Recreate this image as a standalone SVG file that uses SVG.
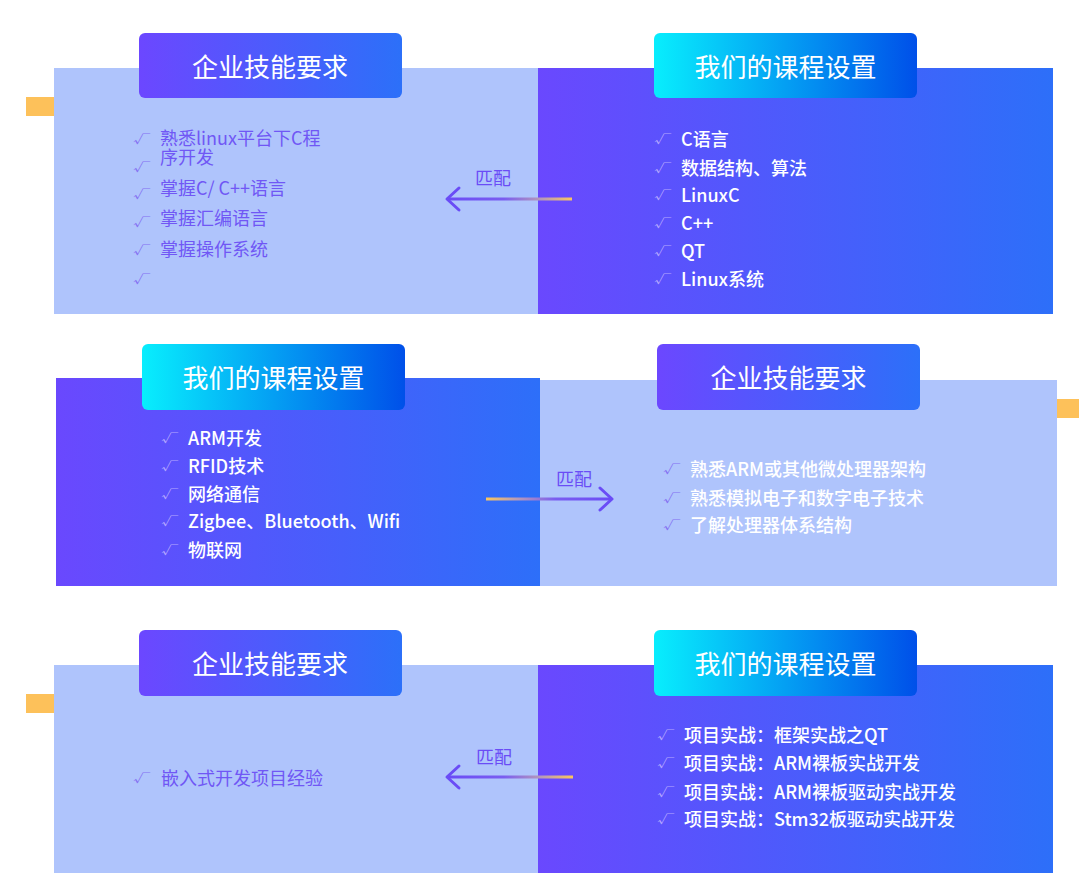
<svg xmlns="http://www.w3.org/2000/svg" width="1086" height="885" viewBox="0 0 1086 885">
<defs>
<linearGradient id="gDark" x1="0" y1="0" x2="1" y2="0"><stop offset="0" stop-color="#6a48fe"/><stop offset="1" stop-color="#2d6ff9"/></linearGradient>
<linearGradient id="gHeadP" x1="0" y1="0" x2="1" y2="0"><stop offset="0" stop-color="#6c47ff"/><stop offset="1" stop-color="#2c70f9"/></linearGradient>
<linearGradient id="gHeadC" x1="0" y1="0" x2="1" y2="0"><stop offset="0" stop-color="#08eefd"/><stop offset="1" stop-color="#0050e9"/></linearGradient>
<linearGradient id="gArrL" gradientUnits="userSpaceOnUse" x1="447" y1="0" x2="573" y2="0"><stop offset="0" stop-color="#6a4cf6"/><stop offset="0.45" stop-color="#7a5cf0"/><stop offset="0.75" stop-color="#b79ab8"/><stop offset="1" stop-color="#fcc65a"/></linearGradient>
<linearGradient id="gArrR" gradientUnits="userSpaceOnUse" x1="486" y1="0" x2="612" y2="0"><stop offset="0" stop-color="#fcc65a"/><stop offset="0.25" stop-color="#b79ab8"/><stop offset="0.55" stop-color="#7a5cf0"/><stop offset="1" stop-color="#6a4cf6"/></linearGradient>
<style>
.light{fill:#afc4fc}
.dark{fill:url(#gDark)}
.tab{fill:#fdc15a}
.hp{fill:url(#gHeadP)}
.hc{fill:url(#gHeadC)}
.title{font-family:"Noto Sans CJK SC","Noto Sans",sans-serif;font-size:26px;fill:#ffffff;font-weight:400;text-anchor:middle}
.tp{font-family:"Noto Sans CJK SC","Noto Sans",sans-serif;font-size:18px;fill:#7057f5}
.tw{font-family:"Noto Sans CJK SC","Noto Sans",sans-serif;font-size:18px;fill:#ffffff;font-weight:500}
.ckp{font-family:"Noto Sans CJK SC",sans-serif;font-size:15px;fill:#8470f2;font-weight:400}
.ckw{font-family:"Noto Sans CJK SC",sans-serif;font-size:15px;fill:#b3a6ff;font-weight:400}
.lbl{font-family:"Noto Sans CJK SC","Noto Sans",sans-serif;font-size:18px;fill:#6a4cf6;text-anchor:middle}
.ah{fill:none;stroke:#6a4cf6;stroke-width:3;stroke-linecap:round;stroke-linejoin:round}
</style>
</defs>
<rect width="1086" height="885" fill="#ffffff"/>

<!-- Section 1 -->
<g id="s1-req">
<rect class="tab" x="26" y="97" width="28" height="19"/>
<rect class="light" x="54" y="68" width="484" height="246"/>
<rect class="hp" x="139" y="33" width="263" height="65" rx="6"/>
<text class="title" x="270" y="77">企业技能要求</text>
<text class="ckp" transform="translate(133,143) scale(1.15,0.7)">√</text>
<text class="tp"><tspan x="160" y="145">熟悉linux平台下C程</tspan><tspan x="160" y="164">序开发</tspan></text>
<text class="ckp" transform="translate(133,171) scale(1.15,0.7)">√</text>
<text class="ckp" transform="translate(133,198) scale(1.15,0.7)">√</text><text class="tp" x="160" y="195">掌握C/ C++语言</text>
<text class="ckp" transform="translate(133,226) scale(1.15,0.7)">√</text><text class="tp" x="160" y="225">掌握汇编语言</text>
<text class="ckp" transform="translate(133,254) scale(1.15,0.7)">√</text><text class="tp" x="160" y="256">掌握操作系统</text>
<text class="ckp" transform="translate(133,283) scale(1.15,0.7)">√</text>
</g>
<g id="s1-course">
<rect class="dark" x="538" y="68" width="515" height="246"/>
<rect class="hc" x="654" y="33" width="263" height="65" rx="6"/>
<text class="title" x="785.5" y="77">我们的课程设置</text>
<text class="ckw" transform="translate(654,143) scale(1.15,0.7)">√</text><text class="tw" x="681" y="146">C语言</text>
<text class="ckw" transform="translate(654,172) scale(1.15,0.7)">√</text><text class="tw" x="681" y="175">数据结构、算法</text>
<text class="ckw" transform="translate(654,199) scale(1.15,0.7)">√</text><text class="tw" x="681" y="202">LinuxC</text>
<text class="ckw" transform="translate(654,227) scale(1.15,0.7)">√</text><text class="tw" x="681" y="230">C++</text>
<text class="ckw" transform="translate(654,255) scale(1.15,0.7)">√</text><text class="tw" x="681" y="258">QT</text>
<text class="ckw" transform="translate(654,283) scale(1.15,0.7)">√</text><text class="tw" x="681" y="286">Linux系统</text>
</g>

<!-- Section 2 -->
<g id="s2-course">
<rect class="dark" x="56" y="378" width="484" height="208"/>
<rect class="hc" x="142" y="344" width="263" height="66" rx="6"/>
<text class="title" x="273.5" y="388">我们的课程设置</text>
<text class="ckw" transform="translate(161,442) scale(1.15,0.7)">√</text><text class="tw" x="188" y="445">ARM开发</text>
<text class="ckw" transform="translate(161,470) scale(1.15,0.7)">√</text><text class="tw" x="188" y="473">RFID技术</text>
<text class="ckw" transform="translate(161,498) scale(1.15,0.7)">√</text><text class="tw" x="188" y="501">网络通信</text>
<text class="ckw" transform="translate(161,525) scale(1.15,0.7)">√</text><text class="tw" x="188" y="528">Zigbee、Bluetooth、Wifi</text>
<text class="ckw" transform="translate(161,554) scale(1.15,0.7)">√</text><text class="tw" x="188" y="557">物联网</text>
</g>
<g id="s2-req">
<rect class="light" x="540" y="380" width="517" height="206"/>
<rect class="tab" x="1057" y="399" width="22" height="19"/>
<rect class="hp" x="657" y="344" width="263" height="66" rx="6"/>
<text class="title" x="788.5" y="388">企业技能要求</text>
<text class="ckp" transform="translate(663,473) scale(1.15,0.7)">√</text><text class="tw" x="690" y="476">熟悉ARM或其他微处理器架构</text>
<text class="ckp" transform="translate(663,502) scale(1.15,0.7)">√</text><text class="tw" x="690" y="505">熟悉模拟电子和数字电子技术</text>
<text class="ckp" transform="translate(663,529) scale(1.15,0.7)">√</text><text class="tw" x="690" y="532">了解处理器体系结构</text>
</g>

<!-- Section 3 -->
<g id="s3-req">
<rect class="tab" x="26" y="694" width="28" height="19"/>
<rect class="light" x="54" y="665" width="484" height="208"/>
<rect class="hp" x="139" y="630" width="263" height="66" rx="6"/>
<text class="title" x="270" y="674">企业技能要求</text>
<text class="ckp" transform="translate(133,782) scale(1.15,0.7)">√</text><text class="tp" x="161" y="785">嵌入式开发项目经验</text>
</g>
<g id="s3-course">
<rect class="dark" x="538" y="665" width="515" height="208"/>
<rect class="hc" x="654" y="630" width="263" height="66" rx="6"/>
<text class="title" x="785.5" y="674">我们的课程设置</text>
<text class="ckw" transform="translate(657,739) scale(1.15,0.7)">√</text><text class="tw" x="684" y="742">项目实战：框架实战之QT</text>
<text class="ckw" transform="translate(657,767) scale(1.15,0.7)">√</text><text class="tw" x="684" y="770">项目实战：ARM裸板实战开发</text>
<text class="ckw" transform="translate(657,796) scale(1.15,0.7)">√</text><text class="tw" x="684" y="799">项目实战：ARM裸板驱动实战开发</text>
<text class="ckw" transform="translate(657,823) scale(1.15,0.7)">√</text><text class="tw" x="684" y="826">项目实战：Stm32板驱动实战开发</text>
</g>

<!-- Connectors -->
<g id="connectors">
<g id="c1">
<line x1="448" y1="199" x2="572" y2="199" stroke="url(#gArrL)" stroke-width="3"/>
<path class="ah" d="M459 188 L447 199 L459 210"/>
<text class="lbl" x="493" y="185">匹配</text>
</g>
<g id="c2">
<line x1="486" y1="499" x2="611" y2="499" stroke="url(#gArrR)" stroke-width="3"/>
<path class="ah" d="M600 488 L612 499 L600 510"/>
<text class="lbl" x="574" y="486">匹配</text>
</g>
<g id="c3">
<line x1="448" y1="777" x2="573" y2="777" stroke="url(#gArrL)" stroke-width="3"/>
<path class="ah" d="M459 766 L447 777 L459 788"/>
<text class="lbl" x="494" y="764">匹配</text>
</g>
</g>
</svg>
